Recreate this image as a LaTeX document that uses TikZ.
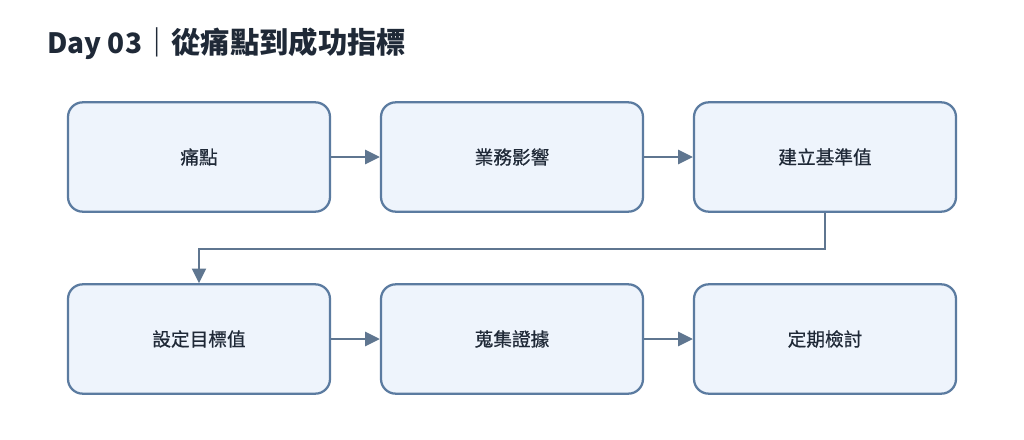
\documentclass[tikz,border=0pt]{standalone}
\usepackage{fontspec}
\setmainfont{Noto Sans CJK TC}
\newfontfamily\boxfont{Noto Sans CJK TC}[FakeBold=0.6]
\usetikzlibrary{arrows.meta,positioning}
\definecolor{titlec}{HTML}{1F2937}
\definecolor{boxfill}{HTML}{EEF4FC}
\definecolor{boxline}{HTML}{5B7BA0}
\definecolor{arrc}{HTML}{5F7690}
\definecolor{txtc}{HTML}{1F2937}
\tikzset{
  stepbox/.style={draw=boxline, fill=boxfill, line width=1.7pt, rounded corners=11pt,
    minimum width=196.5pt, minimum height=82pt, inner sep=0pt,
    font=\boxfont\fontsize{14pt}{16pt}\selectfont, text=txtc},
  flow/.style={draw=arrc, line width=1.8pt, -{Triangle[length=11pt,width=10.5pt]}}
}
\begin{document}
\begin{tikzpicture}[x=0.75pt,y=-0.75pt]
\useasboundingbox (0,0) rectangle (1024,439);
\node[anchor=base west, inner sep=0pt, text=titlec, font=\bfseries\fontsize{21pt}{24pt}\selectfont] (title) at (47,53) {Day 03{\fontsize{22pt}{24pt}\selectfont｜從痛點到成功指標}};
\node[stepbox] (n1) at (199,157) {痛點};
\node[stepbox] (n2) at (512,157) {業務影響};
\node[stepbox] (n3) at (825,157) {建立基準值};
\node[stepbox] (n4) at (199,339) {設定目標值};
\node[stepbox] (n5) at (512,339) {蒐集證據};
\node[stepbox] (n6) at (825,339) {定期檢討};
\draw[flow] (n1) -- (n2);
\draw[flow] (n2) -- (n3);
\draw[flow] (n3.south) -- ++(0,36) -| (n4.north);
\draw[flow] (n4) -- (n5);
\draw[flow] (n5) -- (n6);
\end{tikzpicture}
\end{document}
